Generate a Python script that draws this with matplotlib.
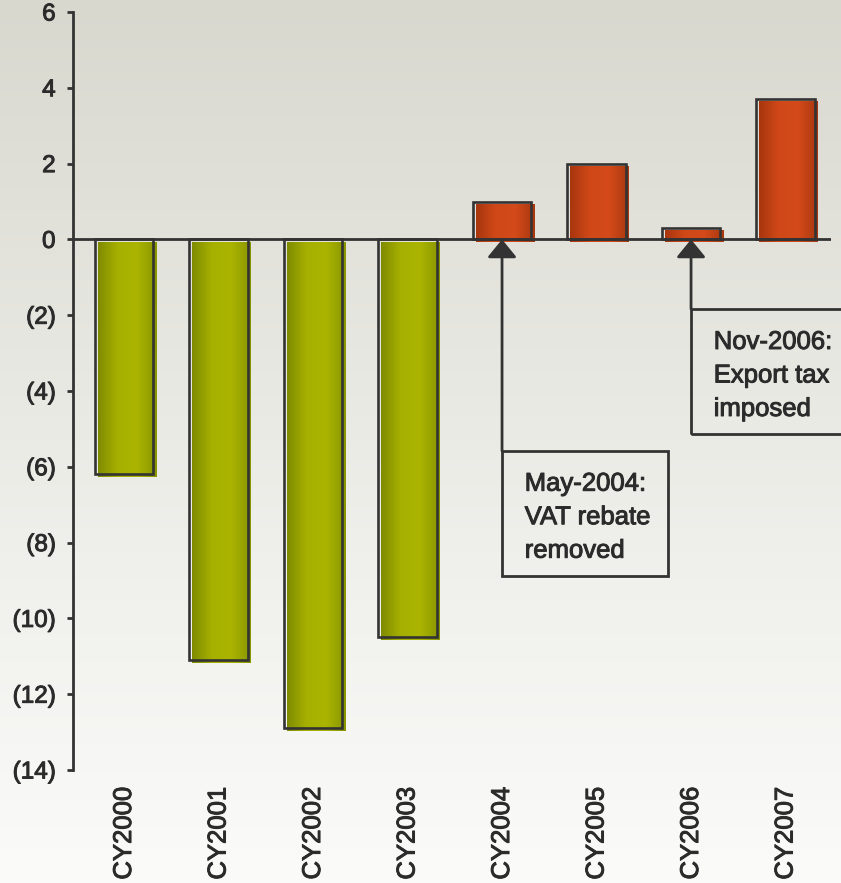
import numpy as np
import matplotlib.pyplot as plt
import matplotlib.patheffects as pe
from matplotlib.colors import LinearSegmentedColormap
from matplotlib.patches import Rectangle

plt.rcParams['font.family'] = ['Liberation Sans', 'DejaVu Sans']

# net trade balance by calendar year
years = ['CY2000', 'CY2001', 'CY2002', 'CY2003', 'CY2004', 'CY2005', 'CY2006', 'CY2007']
balance = [-6.2, -11.1, -12.9, -10.5, 1.0, 2.0, 0.3, 3.7]
y_ticks = [6, 4, 2, 0, -2, -4, -6, -8, -10, -12, -14]

# policy events pointed at on the chart
note_years = ['CY2004', 'CY2006']
note_texts = ['May-2004:\nVAT rebate\nremoved', 'Nov-2006:\nExport tax\nimposed']

ink = '#333333'
txt_col = '#2b2b2b'
heavy = [pe.withStroke(linewidth=0.7, foreground=txt_col)]  # a touch heavier than regular
green = LinearSegmentedColormap.from_list('g', ['#808c00', '#a6b000', '#aab400', '#8a9600'])
orange = LinearSegmentedColormap.from_list('o', ['#a8360e', '#d04818', '#d44a1a', '#a83810'])

fig = plt.figure(figsize=(8.41, 8.83), dpi=100)

# soft grey-to-white backdrop
bg = fig.add_axes([0, 0, 1, 1], zorder=-10)
bg.imshow(np.linspace(0, 1, 256).reshape(-1, 1), aspect='auto', extent=[0, 1, 0, 1],
          cmap=LinearSegmentedColormap.from_list('bg', ['#d8d8cf', '#ebebe6', '#fbfbfa']),
          origin='upper')
bg.axis('off')

ax = fig.add_axes([0.0868, 0.128, 0.9012, 0.8584])
ax.set_facecolor('none')

x = np.arange(len(years))
width = 0.62
dx, dy = 0.032, 0.08  # offset of the fill behind the outline
grad = np.linspace(0, 1, 100).reshape(1, -1)

for xi, v in zip(x, balance):
    cmap = green if v < 0 else orange
    ax.imshow(grad, cmap=cmap, aspect='auto', zorder=2,
              extent=[xi - width / 2 + dx, xi + width / 2 + dx, min(0, v) - dy, max(0, v) - dy])
ax.bar(x, balance, width=width, fill=False, edgecolor=ink, linewidth=1.9, zorder=3)

ax.axhline(0, color=ink, linewidth=2.0, zorder=4)

# event annotations: arrow up to the bar plus a boxed note
boxes = [(-5.58, 1.76, 3.29), (-1.84, 2.2, 3.29)]
for yr, txt, (top, bw, bh) in zip(note_years, note_texts, boxes):
    xi = years.index(yr)
    ax.annotate('', xy=(xi, 0), xytext=(xi, top),
                arrowprops=dict(arrowstyle='-|>,head_length=0.55,head_width=0.45',
                                color=ink, lw=2.0, shrinkA=0, shrinkB=0, mutation_scale=20),
                zorder=5)
    ax.add_patch(Rectangle((xi, top - bh), bw, bh, facecolor='none', edgecolor=ink,
                           linewidth=2.0, zorder=5, clip_on=False))
    ax.text(xi + 0.24, top - 0.55, txt, ha='left', va='top', fontsize=18.5,
            color=txt_col, linespacing=1.5, zorder=6, path_effects=heavy)

ax.set_xlim(-0.54, 7.48)
ax.set_ylim(-14, 6)
ax.set_yticks(y_ticks)
ax.set_yticklabels([f'({-t})' if t < 0 else str(t) for t in y_ticks])
ax.set_xticks(x)
ax.set_xticklabels(years, rotation=90, va='top')

for s in ['top', 'right', 'bottom']:
    ax.spines[s].set_visible(False)
ax.spines['left'].set_linewidth(2.0)
ax.spines['left'].set_color(ink)
ax.tick_params(axis='y', length=4.5, width=2.0, color=ink, labelsize=17.5,
               labelcolor=txt_col, pad=8)
ax.tick_params(axis='x', length=0, labelsize=18.5, labelcolor=txt_col, pad=12)
for lbl in ax.get_yticklabels() + ax.get_xticklabels():
    lbl.set_path_effects(heavy)

fig.savefig('out.png', dpi=100)
